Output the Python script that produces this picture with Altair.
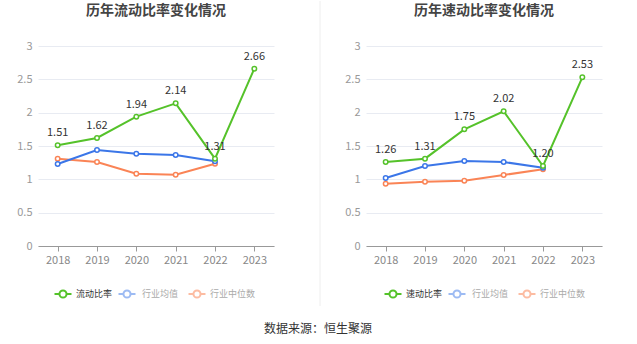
import altair as alt
import pandas as pd

years = ["2018", "2019", "2020", "2021", "2022", "2023"]

# 流动比率 panel
current_ratio = [1.51, 1.62, 1.94, 2.14, 1.31, 2.66]
current_ind_mean = [1.23, 1.44, 1.385, 1.365, 1.27, None]
current_ind_median = [1.31, 1.26, 1.085, 1.07, 1.235, None]

# 速动比率 panel
quick_ratio = [1.26, 1.31, 1.75, 2.02, 1.20, 2.53]
quick_ind_mean = [1.02, 1.20, 1.275, 1.26, 1.175, None]
quick_ind_median = [0.935, 0.965, 0.98, 1.065, 1.15, None]

titles = ["历年流动比率变化情况", "历年速动比率变化情况"]
main_names = ["流动比率", "速动比率"]
ind_names = ["行业均值", "行业中位数"]
source_text = "数据来源：恒生聚源"

GREEN = "#55c22a"
BLUE = "#3b76e8"
ORANGE = "#fa8456"
FONT = "Noto Sans CJK SC"

W, H = 236, 200


def panel(title, main_name, main_vals, mean_vals, median_vals, extra_right, legend_x, left=False):
    rows = []
    for y, v in zip(years, main_vals):
        rows.append({"year": y, "series": main_name, "value": v})
    for y, v in zip(years, mean_vals):
        if v is not None:
            rows.append({"year": y, "series": ind_names[0], "value": v})
    for y, v in zip(years, median_vals):
        if v is not None:
            rows.append({"year": y, "series": ind_names[1], "value": v})
    df = pd.DataFrame(rows)
    order = [ind_names[1], ind_names[0], main_name]
    color = alt.Color("series:N", scale=alt.Scale(domain=[main_name, ind_names[0], ind_names[1]],
                                                  range=[GREEN, BLUE, ORANGE]), legend=None)
    x = alt.X("year:O", sort=years, scale=alt.Scale(type="point", padding=0.5),
              axis=alt.Axis(title=None, labelAngle=0, labelColor="#888", labelFont=FONT,
                            labelFontSize=11, domainColor="#999", tickColor="#999",
                            tickSize=5, labelPadding=3, grid=False))
    yenc = alt.Y("value:Q", scale=alt.Scale(domain=[0, 3], nice=False),
                 axis=alt.Axis(title=None, values=[0, 0.5, 1, 1.5, 2, 2.5, 3],
                               labelExpr="datum.value", labelColor="#999", labelFont=FONT,
                               labelFontSize=11, domain=False, ticks=False, labelPadding=6,
                               gridColor="#e8ebf2", gridWidth=1))
    base = alt.Chart(df)
    layers = []
    for s in order:
        sub = base.transform_filter(alt.datum.series == s)
        layers.append(sub.mark_line(strokeWidth=2).encode(x=x, y=yenc, color=color))
        layers.append(sub.mark_point(filled=True, fill="white", size=20, strokeWidth=1.5, opacity=1)
                      .encode(x=x, y=yenc, stroke=color))
    labels = base.transform_filter(alt.datum.series == main_name).mark_text(
        dy=-12, fontSize=11, font=FONT, color="#333").encode(
        x=x, y=yenc, text=alt.Text("value:Q", format=".2f"))
    layers.append(labels)

    one = pd.DataFrame({"a": [0]})
    # bounds frame (transparent)
    x0 = -38 if left else 0
    layers.append(alt.Chart(one).mark_rect(opacity=0).encode(
        x=alt.value(x0), x2=alt.value(W + extra_right), y=alt.value(-45), y2=alt.value(299)))
    # title
    layers.append(alt.Chart(one).mark_text(fontSize=14, fontWeight="bold", font=FONT,
                                           color="#444", baseline="middle").encode(
        x=alt.value(W / 2), y=alt.value(-35), text=alt.value(title)))
    # legend
    leg_items = [(main_name, GREEN, GREEN, "#333"),
                 (ind_names[0], "#9dbbf3", "#9dbbf3", "#aaa"),
                 (ind_names[1], "#fcbca2", "#fcbca2", "#aaa")]
    for (name, c_line, c_pt, c_txt), cx, tx in zip(leg_items, legend_x[0], legend_x[1]):
        layers.append(alt.Chart(one).mark_rule(color=c_line, strokeWidth=2).encode(
            x=alt.value(cx - 8.5), x2=alt.value(cx + 8.5), y=alt.value(248)))
        layers.append(alt.Chart(one).mark_point(filled=True, fill="white", stroke=c_pt, size=50,
                                                strokeWidth=2, opacity=1).encode(
            x=alt.value(cx), y=alt.value(248)))
        layers.append(alt.Chart(one).mark_text(align="left", baseline="middle", fontSize=9,
                                               font=FONT, color=c_txt).encode(
            x=alt.value(tx), y=alt.value(248), text=alt.value(name)))
    if left:
        layers.append(alt.Chart(one).mark_rule(color="#eeeeee", strokeWidth=1).encode(
            x=alt.value(282), y=alt.value(-45), y2=alt.value(260)))
        layers.append(alt.Chart(one).mark_text(align="center", baseline="middle", fontSize=12,
                                               font=FONT, color="#333").encode(
            x=alt.value(280), y=alt.value(283), text=alt.value(source_text)))
    return alt.layer(*layers).properties(width=W, height=H)


left_panel = panel(titles[0], main_names[0], current_ratio, current_ind_mean, current_ind_median,
                   0, ([25, 89, 159], [38, 104, 172]), left=True)
right_panel = panel(titles[1], main_names[1], quick_ratio, quick_ind_mean, quick_ind_median,
                    271 - W, ([27, 91, 161], [40, 106, 174]))

chart = alt.hconcat(left_panel, right_panel, spacing=92, bounds="flush").properties(
    padding=0, background="white"
).configure_view(stroke=None)

chart.save("out.html", embed_options={"renderer": "svg", "actions": False})
